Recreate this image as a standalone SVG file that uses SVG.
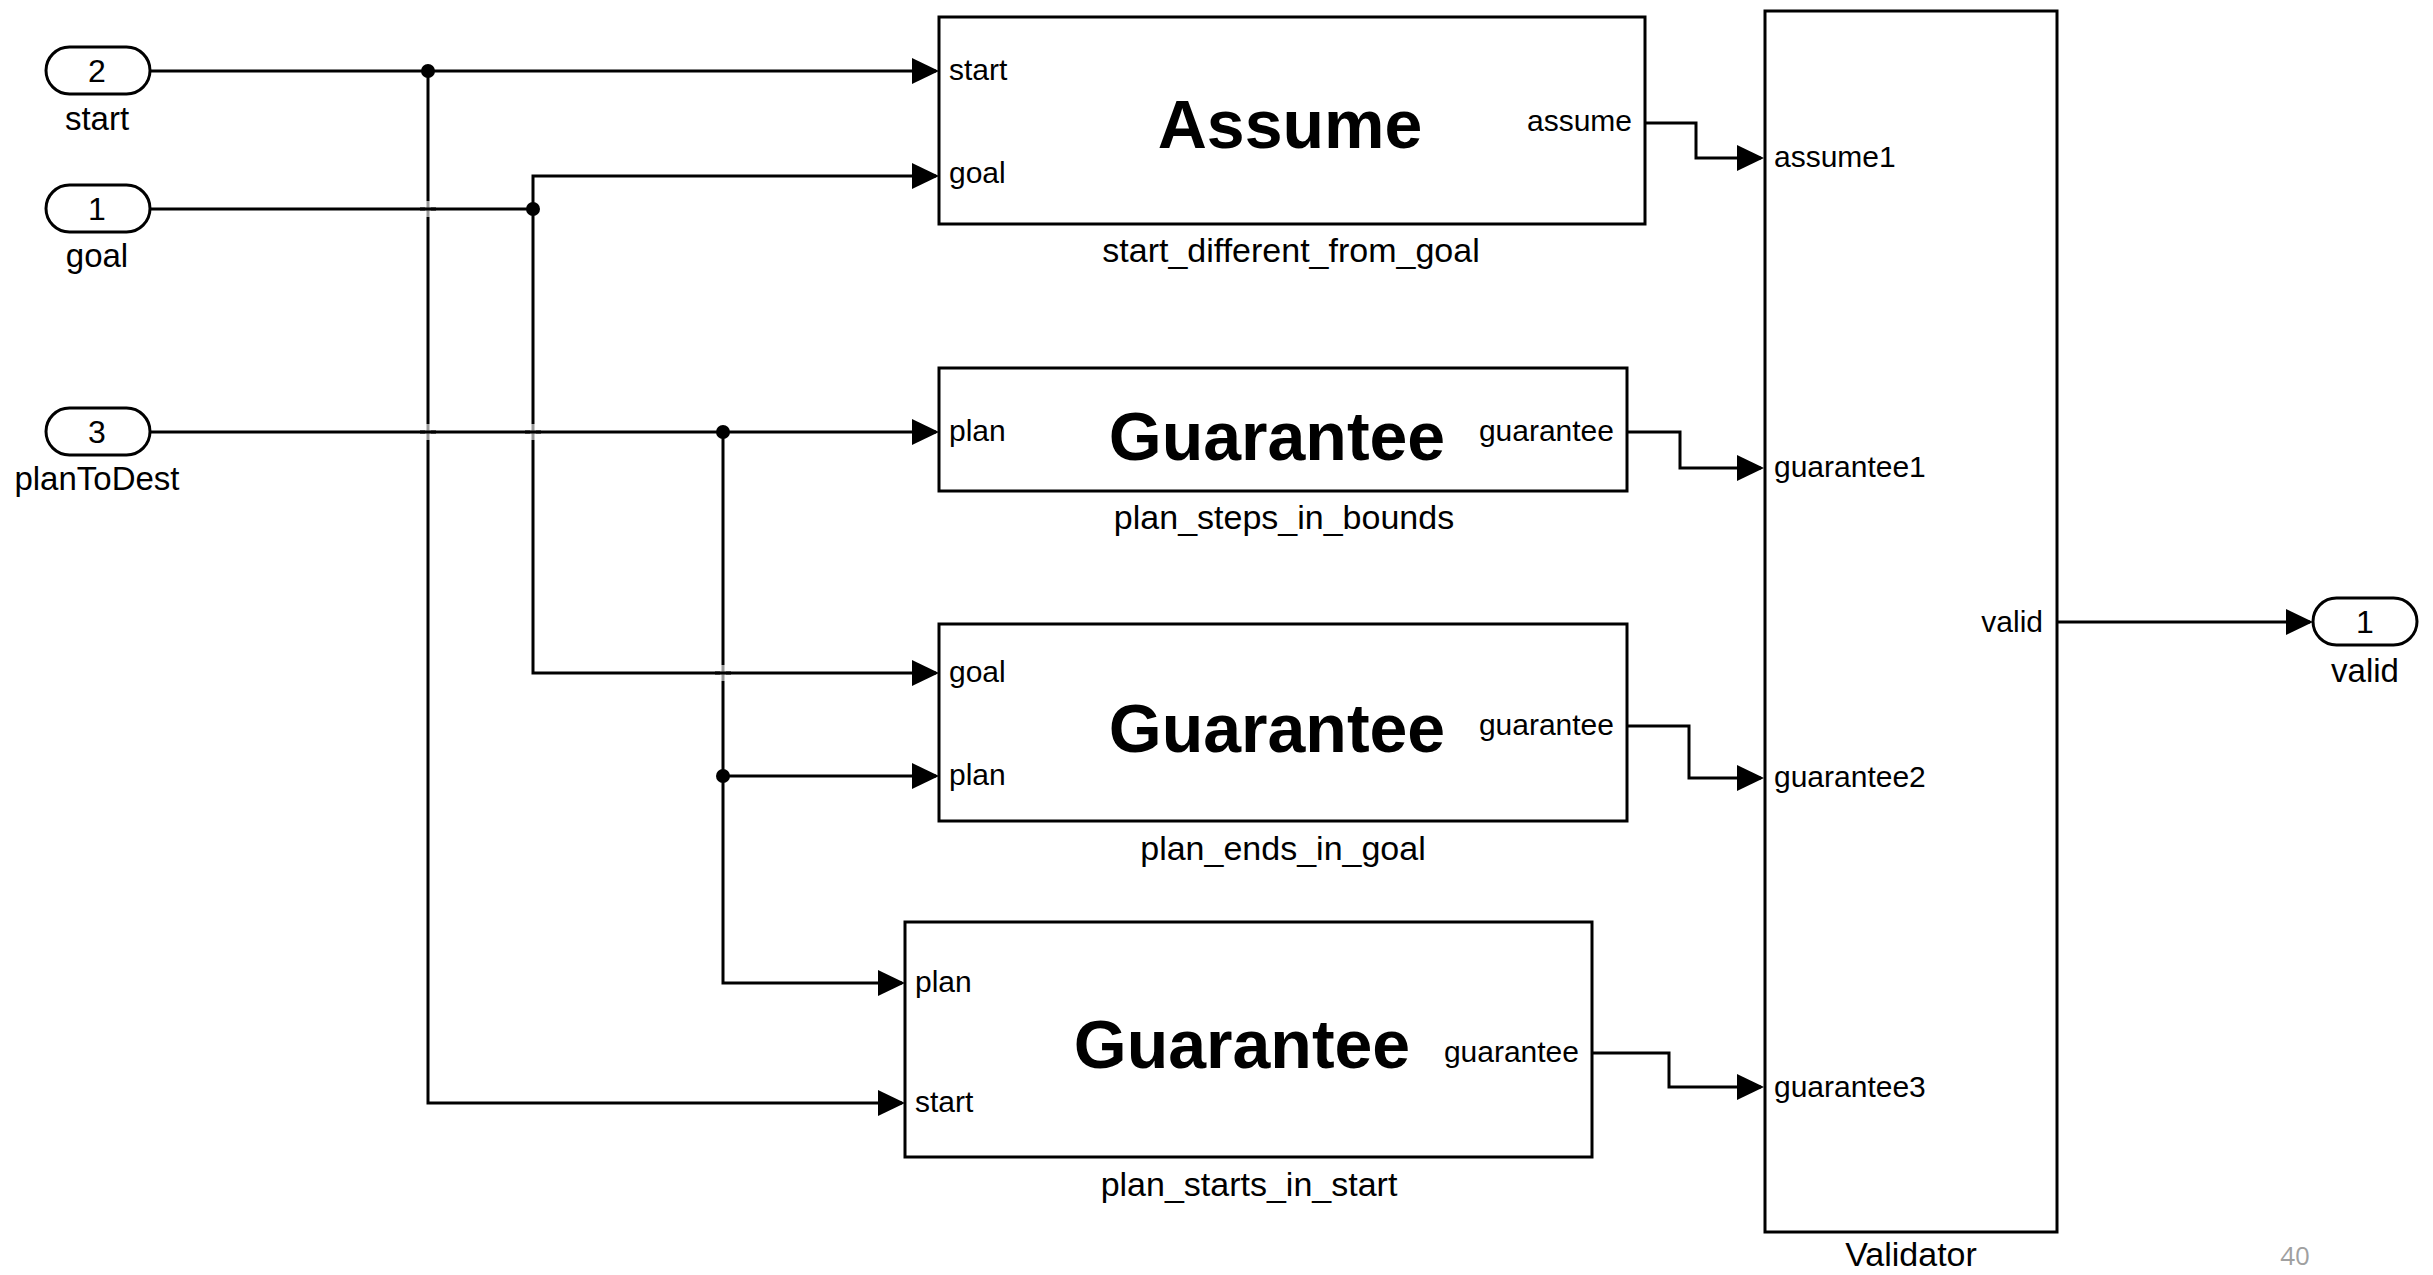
<svg xmlns="http://www.w3.org/2000/svg" width="2433" height="1275" viewBox="0 0 2433 1275">
  <style>
    text { font-family: "Liberation Sans", Arial, sans-serif; fill: #000; }
    .box { fill: #fff; stroke: #000; stroke-width: 3; }
    .pill { fill: #fff; stroke: #000; stroke-width: 3; }
    .wire { fill: none; stroke: #000; stroke-width: 3; }
    .arrow { marker-end: url(#head); }
    .port { font-size: 30px; }
    .vport { font-size: 30px; }
    .title { font-size: 68px; font-weight: bold; text-anchor: middle; }
    .name { font-size: 34px; text-anchor: middle; }
    .num { font-size: 32px; text-anchor: middle; }
    .lbl { font-size: 33px; text-anchor: middle; }
    .dot { fill: #000; }
    .gap { fill: #fff; opacity: 0.6; }
    .pagenum { font-family: "Open Sans", sans-serif; font-size: 26px; fill: #a0a0a0; text-anchor: middle; }
  </style>
  <defs>
    <marker id="head" markerUnits="userSpaceOnUse" markerWidth="28" markerHeight="26" refX="24" refY="13" orient="auto">
      <path d="M0,0 L27,13 L0,26 Z" fill="#000"/>
    </marker>
  </defs>
  <rect width="2433" height="1275" fill="#fff"/>

  <!-- signal lines -->
  <g id="connectors">
    <path class="wire arrow" d="M150,71 H936"/>
    <path class="wire arrow" d="M428,71 V1103 H902"/>
    <path class="wire arrow" d="M150,209 H533 V176 H936"/>
    <path class="wire arrow" d="M533,209 V673 H936"/>
    <path class="wire arrow" d="M150,432 H936"/>
    <path class="wire arrow" d="M723,432 V983 H902"/>
    <path class="wire arrow" d="M723,776 H936"/>
    <path class="wire arrow" d="M1645,123 H1696 V158 H1761"/>
    <path class="wire arrow" d="M1627,432 H1680 V468 H1761"/>
    <path class="wire arrow" d="M1627,726 H1689 V778 H1761"/>
    <path class="wire arrow" d="M1592,1053 H1669 V1087 H1761"/>
    <path class="wire arrow" d="M2057,622 H2310"/>
    <!-- crossings without connection -->
    <rect class="gap" x="425" y="201" width="6" height="16"/>
    <rect class="gap" x="425" y="424" width="6" height="16"/>
    <rect class="gap" x="530" y="424" width="6" height="16"/>
    <rect class="gap" x="720" y="665" width="6" height="16"/>
    <path class="wire" d="M420,209 H436 M420,432 H436 M525,432 H541 M715,673 H731"/>
    <!-- branch points -->
    <circle class="dot" cx="428" cy="71" r="7"/>
    <circle class="dot" cx="533" cy="209" r="7"/>
    <circle class="dot" cx="723" cy="432" r="7"/>
    <circle class="dot" cx="723" cy="776" r="7"/>
  </g>

  <!-- inputs -->
  <g id="in_start">
    <rect class="pill" x="46" y="47" width="104" height="47" rx="23.5"/>
    <text class="num" x="97" y="82">2</text>
    <text class="lbl" x="97" y="130">start</text>
  </g>
  <g id="in_goal">
    <rect class="pill" x="46" y="185" width="104" height="47" rx="23.5"/>
    <text class="num" x="97" y="220">1</text>
    <text class="lbl" x="97" y="267">goal</text>
  </g>
  <g id="in_planToDest">
    <rect class="pill" x="46" y="408" width="104" height="47" rx="23.5"/>
    <text class="num" x="97" y="443">3</text>
    <text class="lbl" x="97" y="490">planToDest</text>
  </g>

  <!-- Assume block -->
  <g id="start_different_from_goal">
    <rect class="box" x="939" y="17" width="706" height="207"/>
    <text class="port" x="949" y="80">start</text>
    <text class="port" x="949" y="183">goal</text>
    <text class="port" x="1632" y="131" text-anchor="end">assume</text>
    <text class="title" x="1290" y="148">Assume</text>
    <text class="name" x="1291" y="262">start_different_from_goal</text>
  </g>

  <!-- Guarantee blocks -->
  <g id="plan_steps_in_bounds">
    <rect class="box" x="939" y="368" width="688" height="123"/>
    <text class="port" x="949" y="441">plan</text>
    <text class="port" x="1614" y="441" text-anchor="end">guarantee</text>
    <text class="title" x="1277" y="460">Guarantee</text>
    <text class="name" x="1284" y="529">plan_steps_in_bounds</text>
  </g>
  <g id="plan_ends_in_goal">
    <rect class="box" x="939" y="624" width="688" height="197"/>
    <text class="port" x="949" y="682">goal</text>
    <text class="port" x="949" y="785">plan</text>
    <text class="port" x="1614" y="735" text-anchor="end">guarantee</text>
    <text class="title" x="1277" y="752">Guarantee</text>
    <text class="name" x="1283" y="860">plan_ends_in_goal</text>
  </g>
  <g id="plan_starts_in_start">
    <rect class="box" x="905" y="922" width="687" height="235"/>
    <text class="port" x="915" y="992">plan</text>
    <text class="port" x="915" y="1112">start</text>
    <text class="port" x="1579" y="1062" text-anchor="end">guarantee</text>
    <text class="title" x="1242" y="1068">Guarantee</text>
    <text class="name" x="1249" y="1196">plan_starts_in_start</text>
  </g>

  <!-- Validator block -->
  <g id="Validator">
    <rect class="box" x="1765" y="11" width="292" height="1221"/>
    <text class="vport" x="1774" y="167">assume1</text>
    <text class="vport" x="1774" y="477">guarantee1</text>
    <text class="vport" x="1774" y="787">guarantee2</text>
    <text class="vport" x="1774" y="1097">guarantee3</text>
    <text class="vport" x="2043" y="632" text-anchor="end">valid</text>
    <text class="name" x="1911" y="1266">Validator</text>
  </g>

  <!-- output -->
  <g id="out_valid">
    <rect class="pill" x="2313" y="598" width="104" height="47" rx="23.5"/>
    <text class="num" x="2365" y="633">1</text>
    <text class="lbl" x="2365" y="682">valid</text>
  </g>

  <text class="pagenum" x="2295" y="1265">40</text>
</svg>
